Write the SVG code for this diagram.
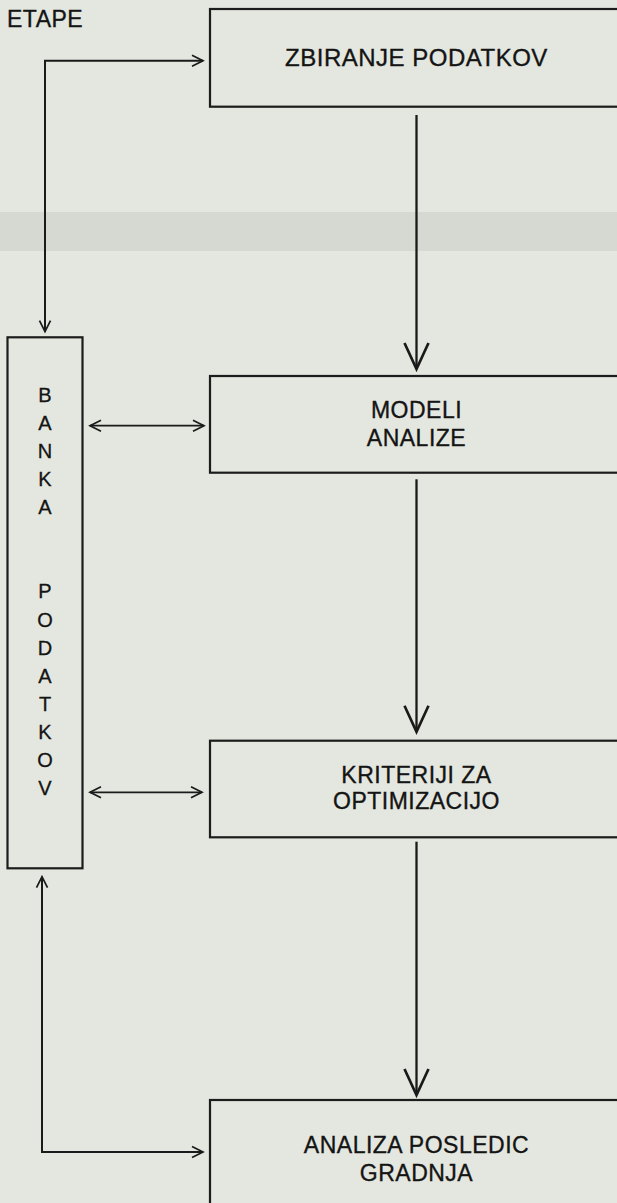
<svg xmlns="http://www.w3.org/2000/svg" width="617" height="1203" viewBox="0 0 617 1203">
  <style>
    .box { fill: none; stroke: #1c1c1c; stroke-width: 2.2; }
    .lbl { font-family: "Liberation Sans", Arial, Helvetica, sans-serif; fill: #141414; stroke: #141414; stroke-width: 0.35px; text-anchor: middle; letter-spacing: 0.5px; }
    .big { font-size: 23px; }
    .bank { font-family: "Liberation Sans", Arial, Helvetica, sans-serif; font-size: 20px; fill: #141414; stroke: #141414; stroke-width: 0.3px; text-anchor: middle; }
    .flow { fill: none; stroke: #1a1a1a; stroke-width: 2.3; }
    .side { fill: none; stroke: #1a1a1a; stroke-width: 2; }
    .dbl { fill: none; stroke: #1a1a1a; stroke-width: 1.7; }
  </style>
  <defs>
    <marker id="bigV" markerUnits="userSpaceOnUse" viewBox="-3 -3 32 30" markerWidth="32" markerHeight="30" refX="26" refY="12" orient="auto">
      <path d="M0,0 L26,12 L0,24" fill="none" stroke="#1a1a1a" stroke-width="2.7"/>
    </marker>
    <marker id="smallV" markerUnits="userSpaceOnUse" viewBox="-2 -2 15 15" markerWidth="15" markerHeight="15" refX="11" refY="5.5" orient="auto-start-reverse">
      <path d="M0,0 L11,5.5 L0,11" fill="none" stroke="#1a1a1a" stroke-width="1.7"/>
    </marker>
  </defs>

  <rect x="0" y="0" width="617" height="1203" fill="#e4e7df"/>
  <rect x="0" y="212" width="617" height="39" fill="#d6d9d1"/>

  <g id="etape">
    <text x="7" y="26.7" class="lbl big" style="text-anchor:start">ETAPE</text>
  </g>

  <g id="zbiranje">
    <rect class="box" x="210" y="9" width="420" height="97.7"/>
    <text x="416.5" y="65.7" class="lbl" font-size="24">ZBIRANJE PODATKOV</text>
  </g>

  <g id="modeli">
    <rect class="box" x="210" y="376" width="420" height="96.7"/>
    <text x="416.5" y="418.3" class="lbl big">MODELI</text>
    <text x="416.5" y="446" class="lbl big">ANALIZE</text>
  </g>

  <g id="kriteriji">
    <rect class="box" x="210" y="740.7" width="420" height="96.6"/>
    <text x="416.5" y="782.7" class="lbl big">KRITERIJI ZA</text>
    <text x="416.5" y="809.3" class="lbl big">OPTIMIZACIJO</text>
  </g>

  <g id="analiza">
    <rect class="box" x="210" y="1100" width="420" height="120"/>
    <text x="416.5" y="1153" class="lbl big">ANALIZA POSLEDIC</text>
    <text x="416.5" y="1181" class="lbl big">GRADNJA</text>
  </g>

  <g id="banka">
    <rect class="box" x="7.5" y="337.3" width="75" height="531"/>
    <text x="45" y="401.7" class="bank">B</text>
    <text x="45" y="429.8" class="bank">A</text>
    <text x="45" y="457.9" class="bank">N</text>
    <text x="45" y="486" class="bank">K</text>
    <text x="45" y="514.1" class="bank">A</text>
    <text x="45" y="598.4" class="bank">P</text>
    <text x="45" y="626.5" class="bank">O</text>
    <text x="45" y="654.6" class="bank">D</text>
    <text x="45" y="682.7" class="bank">A</text>
    <text x="45" y="710.8" class="bank">T</text>
    <text x="45" y="738.9" class="bank">K</text>
    <text x="45" y="767" class="bank">O</text>
    <text x="45" y="795.1" class="bank">V</text>
  </g>

  <g id="connectors">
    <path class="flow" d="M416.5,115 V369" marker-end="url(#bigV)"/>
    <path class="flow" d="M416.5,479.3 V731.7" marker-end="url(#bigV)"/>
    <path class="flow" d="M416.5,841.7 V1095" marker-end="url(#bigV)"/>
    <path class="side" d="M45,331.7 V60.7 H203" marker-start="url(#smallV)" marker-end="url(#smallV)"/>
    <path class="side" d="M42,876.7 V1152 H203" marker-start="url(#smallV)" marker-end="url(#smallV)"/>
    <path class="dbl" d="M90,425.7 H204" marker-start="url(#smallV)" marker-end="url(#smallV)"/>
    <path class="dbl" d="M90,792.3 H202" marker-start="url(#smallV)" marker-end="url(#smallV)"/>
  </g>
</svg>
